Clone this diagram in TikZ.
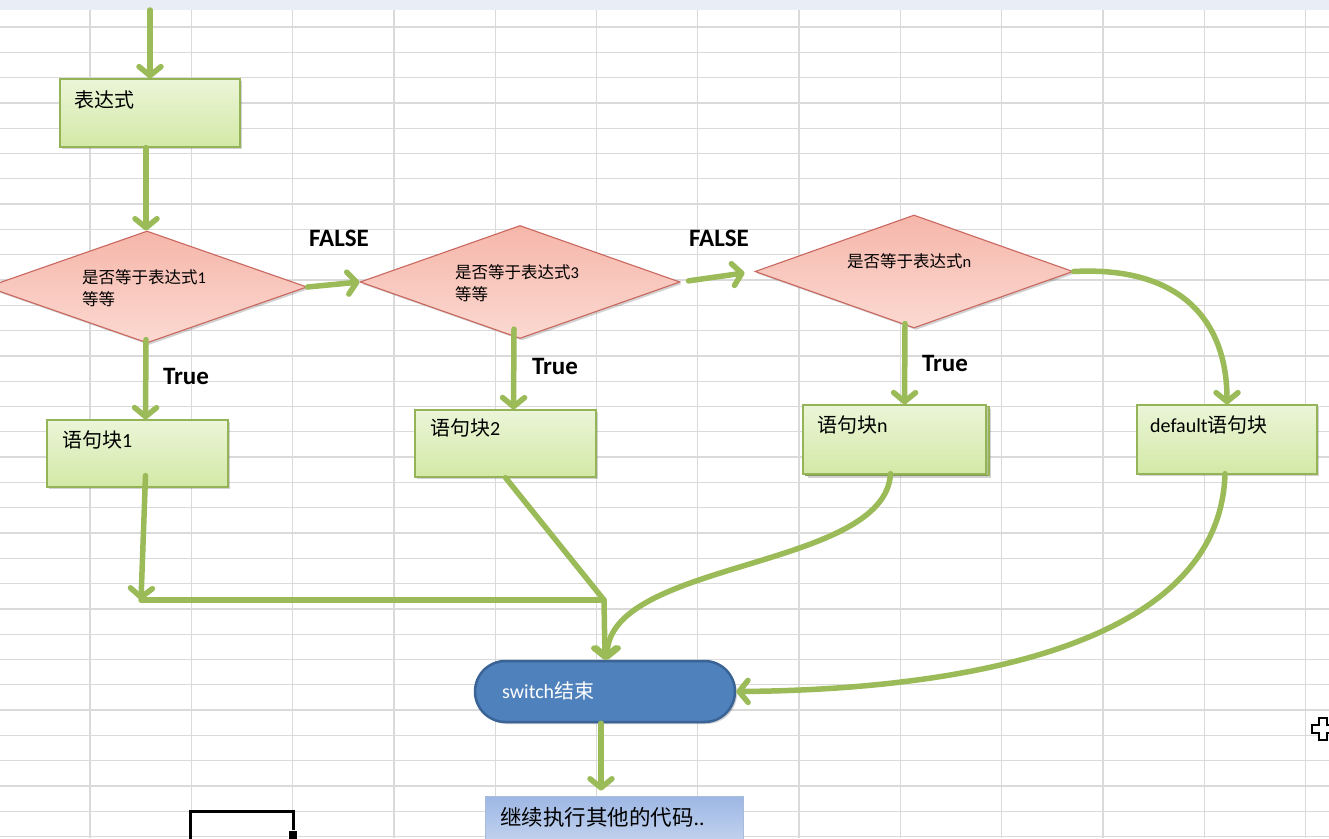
\documentclass[tikz,border=0pt]{standalone}
\usepackage{fontspec}
\setmainfont{Carlito}
\newfontfamily\cjk{Noto Sans CJK SC}
\usetikzlibrary{arrows.meta,shapes.geometric,shapes.misc,shadows,calc}
\definecolor{gridc}{HTML}{DADADA}
\definecolor{bandc}{HTML}{E9EDF5}
\definecolor{arrowc}{HTML}{9BBB59}
\definecolor{gtop}{HTML}{EBF5D8}
\definecolor{gbot}{HTML}{D3E9A6}
\definecolor{gborder}{HTML}{94B457}
\definecolor{rtop}{HTML}{F6B6AA}
\definecolor{rbot}{HTML}{FBD9D1}
\definecolor{rborder}{HTML}{C9675F}
\definecolor{swfill}{HTML}{4F81BD}
\definecolor{swborder}{HTML}{3A6396}
\definecolor{btop}{HTML}{9DB7E4}
\definecolor{bbot}{HTML}{CAD8F1}
\definecolor{bborder}{HTML}{A9BBDB}
\begin{document}
\begin{tikzpicture}[x=1pt,y=-1pt,
  arr/.style={draw=arrowc, line width=5.5pt, line cap=round, line join=round, -{Straight Barb[length=9pt,width=22pt,round]}},
  plainline/.style={draw=arrowc, line width=5.5pt, line cap=round, line join=round},
  shd/.style={drop shadow={shadow xshift=2pt,shadow yshift=-2pt,opacity=0.25,fill=black!70}},
  gbox/.style={draw=gborder, line width=1.3pt, top color=gtop, bottom color=gbot, inner sep=0pt, shd},
  dbox/.style={diamond, draw=rborder, line width=1.1pt, top color=rtop, bottom color=rbot, inner sep=0pt, shd},
  boxtext/.style={anchor=west, inner sep=0pt, font=\fontsize{20}{24}\selectfont},
  dtext/.style={anchor=west, inner sep=0pt, align=left, font=\fontsize{16.5}{21.5}\selectfont},
  lbl/.style={inner sep=0pt, font=\fontsize{25}{30}\selectfont\bfseries}]
\useasboundingbox (0,0) rectangle (1329,838);
\clip (0,0) rectangle (1329,838);
\fill[white] (0,0) rectangle (1329,838);
\fill[bandc] (0,0) rectangle (1329,10);
% grid
\foreach \i in {0,...,12} \draw[gridc, line width=1.3pt] ({90+101.3*\i},10) -- ({90+101.3*\i},838);
\foreach \j in {0,...,32} \draw[gridc, line width=1.3pt] (0,{27+25.3*\j}) -- (1329,{27+25.3*\j});

% nodes
\node[gbox, minimum width=180pt, minimum height=68pt] (expr) at (150,113) {};
\node[boxtext] (texpr) at (74,100) {\cjk 表达式};

\node[dbox, minimum width=320pt, minimum height=112pt] (d1) at (147,287) {};
\node[dtext] (td1) at (82,288) {{\cjk 是否等于表达式}1\\{\cjk 等等}};

\node[dbox, minimum width=320pt, minimum height=113pt] (d2) at (520,282) {};
\node[dtext] (td2) at (455,283) {{\cjk 是否等于表达式}3\\{\cjk 等等}};

\node[dbox, minimum width=318pt, minimum height=113pt] (d3) at (914,271.5) {};
\node[dtext] (td3) at (847,261) {{\cjk 是否等于表达式}n};

\node[gbox, minimum width=181pt, minimum height=67pt] (b1) at (137.5,453.5) {};
\node[boxtext] (tb1) at (62,440) {{\cjk 语句块}1};

\node[gbox, minimum width=181pt, minimum height=67pt] (b2) at (505.5,443.5) {};
\node[boxtext] (tb2) at (430,428) {{\cjk 语句块}2};

\node[gbox, minimum width=183pt, minimum height=69pt] (bnback) at (897.5,441) {};
\node[gbox, minimum width=183pt, minimum height=69pt] (bn) at (894.5,439.5) {};
\node[boxtext] (tbn) at (817,425) {{\cjk 语句块}n};

\node[gbox, minimum width=180pt, minimum height=69pt] (bd) at (1227,439.5) {};
\node[boxtext] (tbd) at (1150,425) {default{\cjk 语句块}};

\node[rounded rectangle, draw=swborder, line width=2.5pt, fill=swfill, minimum width=260pt, minimum height=61pt, inner sep=0pt, shd] (sw) at (605,691.5) {};
\node[boxtext, text=white] (tsw) at (502,691) {switch{\cjk 结束}};

\node[draw=bborder, line width=1pt, top color=btop, bottom color=bbot, minimum width=258pt, minimum height=56pt, inner sep=0pt] (cont) at (614,824) {};
\node[boxtext, font=\fontsize{21.5}{26}\selectfont] (tcont) at (500,817) {{\cjk 继续执行其他的代码}..};

% labels
\node[lbl] (f1) at (339,238) {FALSE};
\node[lbl] (f2) at (719,238) {FALSE};
\node[lbl] (t1) at (186,376) {True};
\node[lbl] (t2) at (555,366) {True};
\node[lbl] (t3) at (945,363) {True};

% connectors
\coordinate (top) at (150,10);
\coordinate (j1) at (141,600);
\coordinate (j2) at (604,600);
\draw[arr] (top) -- (expr.north);
\draw[arr] ([xshift=-4pt]expr.south) -- ([xshift=-1pt]d1.north);
\draw[arr] (d1.east) -- (d2.west);
\draw[arr, shorten <=8pt, shorten >=10pt] (d2.east) -- (d3.west);
\draw[arr] ([xshift=-1pt,yshift=4pt]d1.south) -- ([xshift=8pt]b1.north);
\draw[arr] ([xshift=-6pt,yshift=10pt]d2.south) -- ([xshift=8pt]b2.north);
\draw[arr] ([xshift=-9pt,yshift=5pt]d3.south) -- ([xshift=10pt]bn.north);
\draw[arr] (d3.east) .. controls (1180,266) and (1227,320) .. (bd.north);
\draw[arr] ([xshift=8pt,yshift=12pt]b1.south) -- (j1);
\draw[plainline] (j1) -- (j2);
\draw[arr] (b2.south) -- (j2) -- (sw.north);
\draw[arr] ([xshift=-4pt,yshift=1pt]bn.south) .. controls (885,570) and (608,560) .. ([xshift=2pt]sw.north);
\draw[arr] ([xshift=-2pt,yshift=1pt]bd.south) .. controls (1220,650) and (950,690) .. (sw.east);
\draw[arr, shorten >=5pt] ([xshift=-4pt]sw.south) -- ([xshift=-4pt]sw.south |- cont.north);

% selected cell and cursor
\draw[black, line width=3pt] (190,811) rectangle (293,845);
\filldraw[fill=black, draw=white, line width=1pt] (288,830) rectangle (297,839);
\filldraw[fill=white, draw=black, line width=1.8pt]
  (1319,718) -- (1327,718) -- (1327,725) -- (1334,725) -- (1334,733) -- (1327,733)
  -- (1327,740) -- (1319,740) -- (1319,733) -- (1312,733) -- (1312,725) -- (1319,725) -- cycle;
\end{tikzpicture}
\end{document}
